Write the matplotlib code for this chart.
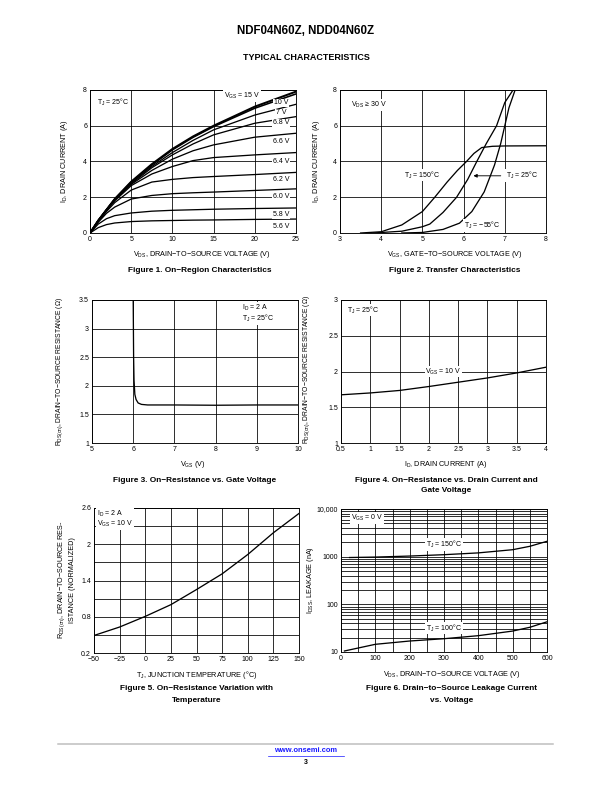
import numpy as np
import matplotlib
matplotlib.use("Agg")
import matplotlib.pyplot as plt
from matplotlib.lines import Line2D
from matplotlib.ticker import FixedLocator, NullFormatter

plt.rcParams['font.family'] = ['Liberation Sans', 'DejaVu Sans']
plt.rcParams['mathtext.fontset'] = 'custom'
plt.rcParams['mathtext.rm'] = 'Liberation Sans'
plt.rcParams['mathtext.it'] = 'Liberation Sans'
plt.rcParams['mathtext.bf'] = 'Liberation Sans:bold'

# ---------------- Figure 1 data: On-region characteristics ----------------
vds1 = [0, 1, 2, 3, 5, 7.5, 10, 12.5, 15, 20, 25]
id_15V = [0, 0.7, 1.3, 1.9, 2.87, 3.85, 4.7, 5.4, 6.0, 7.07, 7.91]
id_10V = [0, 0.7, 1.3, 1.9, 2.85, 3.8, 4.65, 5.35, 5.95, 6.98, 7.78]
id_7V = [0, 0.7, 1.3, 1.88, 2.8, 3.72, 4.5, 5.18, 5.77, 6.6, 7.2]
id_6_8V = [0, 0.7, 1.3, 1.87, 2.75, 3.65, 4.37, 4.98, 5.49, 6.14, 6.51]
id_6_6V = [0, 0.7, 1.3, 1.85, 2.72, 3.5, 4.13, 4.6, 4.93, 5.36, 5.58]
id_6_4V = [0, 0.68, 1.27, 1.8, 2.65, 3.3, 3.72, 4.05, 4.22, 4.37, 4.5]
id_6_2V = [0, 0.65, 1.2, 1.7, 2.4, 2.85, 3.0, 3.1, 3.16, 3.27, 3.39]
id_6_0V = [0, 0.6, 1.1, 1.45, 1.9, 2.1, 2.2, 2.25, 2.29, 2.38, 2.47]
id_5_8V = [0, 0.5, 0.8, 0.97, 1.12, 1.22, 1.27, 1.3, 1.33, 1.37, 1.40]
id_5_6V = [0, 0.3, 0.47, 0.56, 0.64, 0.68, 0.7, 0.72, 0.73, 0.76, 0.78]
vgs_labels1 = ["10 V", "7 V", "6.8 V", "6.6 V", "6.4 V", "6.2 V", "6.0 V", "5.8 V", "5.6 V"]

# ---------------- Figure 2 data: Transfer characteristics ----------------
vgs_150 = [3.5, 4.0, 4.5, 5.0, 5.3, 5.6, 5.85, 6.07, 6.25, 6.44, 6.7, 7.0, 8.0]
id_150 = [0, 0.07, 0.45, 1.2, 2.0, 2.85, 3.5, 4.0, 4.45, 4.78, 4.85, 4.87, 4.88]
vgs_25 = [3.8, 4.5, 5.0, 5.18, 5.5, 5.83, 6.1, 6.32, 6.55, 6.8, 7.0, 7.2]
id_25 = [0, 0.1, 0.35, 0.5, 1.15, 2.0, 3.0, 4.0, 5.0, 6.0, 7.3, 8.0]
vgs_m55 = [4.5, 5.0, 5.5, 5.9, 6.2, 6.5, 6.75, 6.9, 7.0, 7.1, 7.25]
id_m55 = [0, 0.03, 0.2, 0.55, 1.2, 2.3, 3.8, 5.0, 6.0, 7.0, 8.0]

# ---------------- Figure 3 data: R_DS(on) vs V_GS ----------------
vgs3 = [6.0, 6.005, 6.01, 6.02, 6.04, 6.07, 6.12, 6.2, 6.35, 6.6, 7, 8, 9, 10]
rds3 = [3.5, 3.0, 2.5, 2.1, 1.85, 1.76, 1.70, 1.675, 1.665, 1.665, 1.665, 1.66, 1.665, 1.665]

# ---------------- Figure 4 data: R_DS(on) vs I_D ----------------
id4 = [0.5, 1.0, 1.5, 2.0, 2.5, 3.0, 3.5, 4.0]
rds4 = [1.674, 1.70, 1.735, 1.79, 1.85, 1.91, 1.98, 2.06]

# ---------------- Figure 5 data: R_DS(on) normalized vs T_J ----------------
tj5 = [-50, -25, 0, 25, 50, 75, 100, 125, 150]
rn5 = [0.49, 0.63, 0.806, 1.0, 1.25, 1.51, 1.83, 2.19, 2.51]

# ---------------- Figure 6 data: leakage vs V_DS ----------------
vds6_150 = [25, 100, 200, 300, 400, 500, 550, 600]
idss_150 = [960, 980, 1030, 1100, 1200, 1400, 1650, 2100]
vds6_100 = [10, 100, 200, 300, 400, 500, 550, 600]
idss_100 = [10.5, 14.5, 17, 19, 22, 27.5, 33, 43]

W, H = 612, 792
fig = plt.figure(figsize=(W / 72, H / 72), dpi=72)

TICK = 7
TS = 7
AX = 7.2
CAP = 8.3

def ax_px(l, t, r, b):
    return fig.add_axes([l / W, 1 - b / H, (r - l) / W, (b - t) / H])

def ftext(x, y, s, **kw):
    kw.setdefault('ha', 'center')
    kw.setdefault('va', 'center')
    kw.setdefault('fontsize', AX)
    fig.text(x / W, 1 - y / H, s, **kw)

def style(ax):
    ax.grid(True, which='both', color='black', lw=0.8)
    ax.set_axisbelow(True)
    ax.tick_params(which='both', length=0, pad=3, labelsize=TICK)
    for sp in ax.spines.values():
        sp.set_linewidth(0.9)

box = dict(facecolor='white', edgecolor='none', pad=0.8)

# Header
ftext(306, 31, "NDF04N60Z, NDD04N60Z", fontsize=11.5, fontweight='bold')
ftext(306, 57, "TYPICAL CHARACTERISTICS", fontsize=9, fontweight='bold')

# ---------------- Fig 1 ----------------
ax1 = ax_px(90, 90, 296, 233)
curves1 = [id_15V, id_10V, id_7V, id_6_8V, id_6_6V, id_6_4V, id_6_2V, id_6_0V, id_5_8V, id_5_6V]
lws = [2.0, 1.6, 1.3, 1.3, 1.3, 1.3, 1.3, 1.3, 1.3, 1.3]
for c, lw in zip(curves1, lws):
    ax1.plot(vds1, c, color='black', lw=lw)
ax1.set_xlim(0, 25)
ax1.set_ylim(0, 8)
ax1.set_xticks([0, 5, 10, 15, 20, 25])
ax1.set_yticks([0, 2, 4, 6, 8])
style(ax1)
ax1.text(2.8, 7.28, r"$\mathregular{T_J}$ = 25°C", fontsize=TS, ha='center', va='center', bbox=box)
ax1.text(18.5, 7.65, r"$\mathregular{V_{GS}}$ = 15 V", fontsize=TS, ha='center', va='center', bbox=box)
lab_y1 = [7.28, 6.72, 6.16, 5.14, 3.98, 3.0, 2.03, 1.04, 0.35]
for s, y in zip(vgs_labels1, lab_y1):
    ax1.text(23.2, y, s, fontsize=TS, ha='center', va='center', bbox=box)
ftext(64, 161, r"$\mathregular{I_D}$, DRAIN CURRENT (A)", rotation=90)
ftext(202, 254, r"$\mathregular{V_{DS}}$, DRAIN−TO−SOURCE VOLTAGE (V)")
ftext(200, 271, "Figure 1. On−Region Characteristics", fontsize=CAP, fontweight='bold')

# ---------------- Fig 2 ----------------
ax2 = ax_px(340, 90, 546, 233)
ax2.plot(vgs_150, id_150, color='black', lw=1.3)
ax2.plot(vgs_25, id_25, color='black', lw=1.3)
ax2.plot(vgs_m55, id_m55, color='black', lw=1.3)
ax2.set_xlim(3, 8)
ax2.set_ylim(0, 8)
ax2.set_xticks([3, 4, 5, 6, 7, 8])
ax2.set_yticks([0, 2, 4, 6, 8])
style(ax2)
ax2.text(3.69, 7.15, r"$\mathregular{V_{DS}}$ ≥ 30 V", fontsize=TS, ha='center', va='center', bbox=box)
ax2.text(5.0, 3.24, r"$\mathregular{T_J}$ = 150°C", fontsize=TS, ha='center', va='center', bbox=box)
ax2.text(7.41, 3.2, r"$\mathregular{T_J}$ = 25°C", fontsize=TS, ha='center', va='center', bbox=box)
ax2.annotate("", xy=(6.19, 3.2), xytext=(6.95, 3.2),
             arrowprops=dict(arrowstyle='-|>', color='black', lw=0.9, mutation_scale=7))
ax2.text(6.45, 0.42, r"$\mathregular{T_J}$ = −55°C", fontsize=TS, ha='center', va='center', bbox=box)
ftext(316, 161, r"$\mathregular{I_D}$, DRAIN CURRENT (A)", rotation=90)
ftext(455, 254, r"$\mathregular{V_{GS}}$, GATE−TO−SOURCE VOLTAGE (V)")
ftext(455, 271, "Figure 2. Transfer Characteristics", fontsize=CAP, fontweight='bold')

# ---------------- Fig 3 ----------------
ax3 = ax_px(92, 300, 298, 443)
ax3.plot(vgs3, rds3, color='black', lw=1.3)
ax3.set_xlim(5, 10)
ax3.set_ylim(1, 3.5)
ax3.set_xticks([5, 6, 7, 8, 9, 10])
ax3.set_yticks([1, 1.5, 2, 2.5, 3, 3.5])
ax3.set_yticklabels(["1", "1.5", "2", "2.5", "3", "3.5"])
style(ax3)
ax3.text(8.65, 3.27, "$\\mathregular{I_D}$ = 2 A\n$\\mathregular{T_J}$ = 25°C", fontsize=TS,
         ha='left', va='center', linespacing=1.0, bbox=box)
ftext(60, 371, r"$\mathregular{R_{DS(on)}}$, DRAIN−TO−SOURCE RESISTANCE (Ω)", rotation=90, fontsize=6.8)
ftext(193, 464, r"$\mathregular{V_{GS}}$ (V)")
ftext(195, 480, "Figure 3. On−Resistance vs. Gate Voltage", fontsize=CAP, fontweight='bold')

# ---------------- Fig 4 ----------------
ax4 = ax_px(341, 300, 546, 443)
ax4.plot(id4, rds4, color='black', lw=1.3)
ax4.set_xlim(0.5, 4)
ax4.set_ylim(1, 3)
ax4.set_xticks([0.5, 1, 1.5, 2, 2.5, 3, 3.5, 4])
ax4.set_xticklabels(["0.5", "1", "1.5", "2", "2.5", "3", "3.5", "4"])
ax4.set_yticks([1, 1.5, 2, 2.5, 3])
ax4.set_yticklabels(["1", "1.5", "2", "2.5", "3"])
style(ax4)
ax4.text(0.6, 2.86, r"$\mathregular{T_J}$ = 25°C", fontsize=TS, ha='left', va='center', bbox=box)
ax4.text(2.25, 2.0, r"$\mathregular{V_{GS}}$ = 10 V", fontsize=TS, ha='center', va='center', bbox=box)
ftext(307, 369, r"$\mathregular{R_{DS(on)}}$, DRAIN−TO−SOURCE RESISTANCE (Ω)", rotation=90, fontsize=6.8)
ftext(446, 464, r"$\mathregular{I_D}$, DRAIN CURRENT (A)")
ftext(446, 480, "Figure 4. On−Resistance vs. Drain Current and", fontsize=CAP, fontweight='bold')
ftext(446, 491, "Gate Voltage", fontsize=CAP, fontweight='bold')

# ---------------- Fig 5 ----------------
ax5 = ax_px(94, 508, 299, 653)
ax5.plot(tj5, rn5, color='black', lw=1.3)
ax5.set_xlim(-50, 150)
ax5.set_ylim(0.2, 2.6)
ax5.set_xticks([-50, -25, 0, 25, 50, 75, 100, 125, 150])
ax5.set_xticklabels(["−50", "−25", "0", "25", "50", "75", "100", "125", "150"])
ax5.set_yticks([0.2, 0.8, 1.4, 2.0, 2.6])
ax5.set_yticklabels(["0.2", "0.8", "1.4", "2", "2.6"])
ax5.yaxis.set_minor_locator(FixedLocator([0.5, 1.1, 1.7, 2.3]))
style(ax5)
ax5.text(-47.5, 2.42, "$\\mathregular{I_D}$ = 2 A\n$\\mathregular{V_{GS}}$ = 10 V", fontsize=TS,
         ha='left', va='center', linespacing=1.0, bbox=box)
ftext(62, 580, r"$\mathregular{R_{DS(on)}}$, DRAIN−TO−SOURCE RES-", rotation=90)
ftext(73, 580, "ISTANCE (NORMALIZED)", rotation=90)
ftext(197, 675, r"$\mathregular{T_J}$, JUNCTION TEMPERATURE (°C)")
ftext(197, 689, "Figure 5. On−Resistance Variation with", fontsize=CAP, fontweight='bold')
ftext(197, 700, "Temperature", fontsize=CAP, fontweight='bold')

# ---------------- Fig 6 ----------------
ax6 = ax_px(341, 509, 547, 652)
ax6.plot(vds6_150, idss_150, color='black', lw=1.3)
ax6.plot(vds6_100, idss_100, color='black', lw=1.3)
ax6.set_yscale('log')
ax6.set_xlim(0, 600)
ax6.set_ylim(10, 10000)
ax6.set_xticks([0, 100, 200, 300, 400, 500, 600])
ax6.xaxis.set_minor_locator(FixedLocator([50, 150, 250, 350, 450, 550]))
ax6.set_yticks([10, 100, 1000, 10000])
ax6.set_yticklabels(["10", "100", "1000", "10,000"])
ax6.yaxis.set_minor_formatter(NullFormatter())
style(ax6)
ax6.text(76, 6430, r"$\mathregular{V_{GS}}$ = 0 V", fontsize=TS, ha='center', va='center', bbox=box)
ax6.text(299, 1820, r"$\mathregular{T_J}$ = 150°C", fontsize=TS, ha='center', va='center', bbox=box)
ax6.text(299, 32, r"$\mathregular{T_J}$ = 100°C", fontsize=TS, ha='center', va='center', bbox=box)
ftext(311, 580, r"$\mathregular{I_{DSS}}$, LEAKAGE (nA)", rotation=90)
ftext(452, 675, r"$\mathregular{V_{DS}}$, DRAIN−TO−SOURCE VOLTAGE (V)")
ftext(452, 689, "Figure 6. Drain−to−Source Leakage Current", fontsize=CAP, fontweight='bold')
ftext(452, 700, "vs. Voltage", fontsize=CAP, fontweight='bold')

# ---------------- Footer ----------------
fig.add_artist(Line2D([58 / W, 553 / W], [1 - 744 / H, 1 - 744 / H], color='#bdbdbd', lw=1.5))
ftext(306, 751, "www.onsemi.com", fontsize=7.5, fontweight='bold', color='#1a1aff')
fig.add_artist(Line2D([268 / W, 344 / W], [1 - 755.5 / H, 1 - 755.5 / H], color='#1a1aff', lw=0.7))
ftext(306, 762, "3", fontsize=7, fontweight='bold')

fig.savefig("out.png", dpi=72)
